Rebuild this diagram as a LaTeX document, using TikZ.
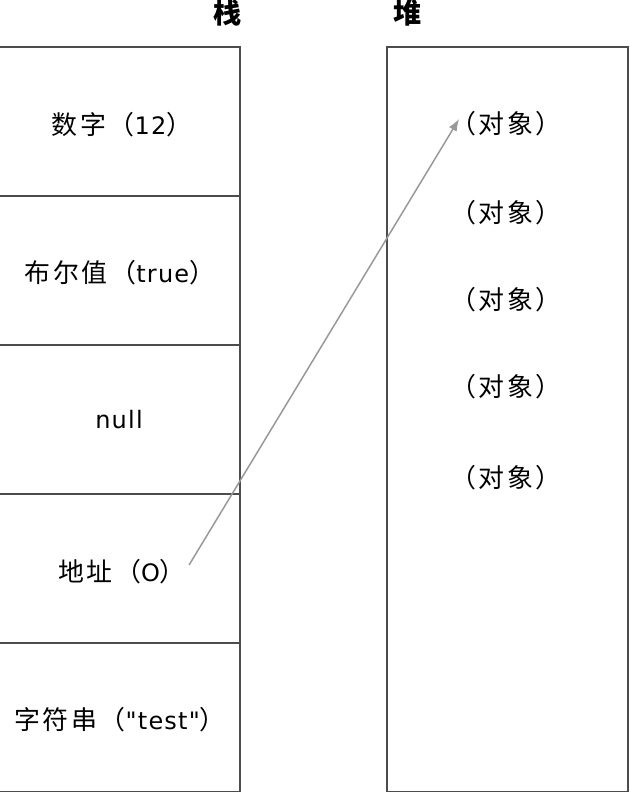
\documentclass[tikz,border=0pt]{standalone}
\usepackage{fontspec}
\newfontfamily\latfont{DejaVu Sans}[LetterSpace=5]
\newfontfamily\cjk{Noto Sans CJK SC}[Scale=1.08,LetterSpace=10]
\newcommand{\zh}[1]{{\cjk #1}}
\usetikzlibrary{positioning,arrows.meta}
\tikzset{
  cell/.style={draw=black!70, line width=1.5bp, minimum width=244bp,
    minimum height=149bp, inner sep=0pt},
  heapbox/.style={draw=black!70, line width=1.5bp, minimum width=241bp,
    minimum height=745bp, inner sep=0pt},
  word/.style={font=\fontsize{24bp}{28bp}\selectfont\latfont, inner sep=0pt},
  heading/.style={font=\fontsize{26bp}{32bp}\selectfont\cjk\bfseries, inner sep=0pt},
  ref/.style={-{Latex[length=12bp,width=9bp]}, draw=black!40, fill=black!40,
    line width=1.5bp}
}
\begin{document}
\begin{tikzpicture}[x=1bp,y=-1bp]
  \useasboundingbox (0,0) rectangle (630,792);
  % stack
  \foreach \i in {1,...,5}
    \node[cell] (cell\i) at (118,{47+149*(\i-0.5)}) {};
  \node[heading] (stack) at (228,13) {栈};
  \node[word] (num) at (122,125) {\zh{数字（}12\zh{）}};
  \node[word] (bool) at (120,273) {\zh{布尔值（}true\zh{）}};
  \node[word] (nul) at (119,420) {null};
  \node[word] (addr) at (122,572) {\zh{地址（}O\zh{）}};
  \node[word] (str) at (120,720) {\zh{字符串（}"test"\zh{）}};
  % heap
  \node[heapbox] (heap) at (507.5,419.5) {};
  \node[heading] (heaptitle) at (408,13) {堆};
  \foreach \y [count=\i] in {124,213,300,387,478}
    \node[word] (obj\i) at (506,\y) {\zh{（对象）}};
  % reference
  \draw[ref] ([xshift=3bp,yshift=7bp]addr.east) -- ([xshift=9bp,yshift=5bp]obj1.west);
\end{tikzpicture}
\end{document}
